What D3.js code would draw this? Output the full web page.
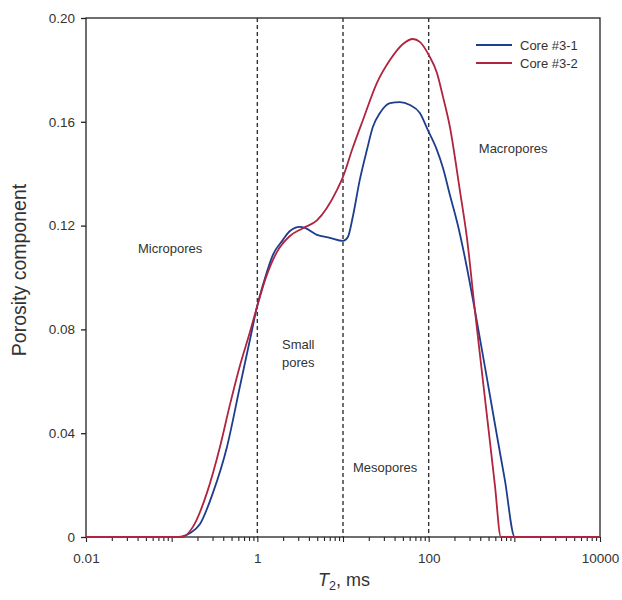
<!DOCTYPE html>
<html>
<head>
<meta charset="utf-8">
<script src="https://cdn.jsdelivr.net/npm/d3@7"></script>
<style>
  body { margin: 0; background: #fff; }
  text { font-family: Arial, "Liberation Sans", sans-serif; fill: #333; }
</style>
</head>
<body>
<div id="chart"></div>
<script>
// T2 (ms) and porosity component
var t2Core1 = [0.01, 0.12, 0.164, 0.214, 0.303, 0.442, 0.626, 0.82, 0.99, 1.23, 1.52, 1.99, 2.40, 3.14, 3.59, 4.96, 7.03, 9.97, 11.4, 13.0, 15.7, 19.0, 22.3, 27.0, 35.3, 46.2, 60.4, 78.9, 97.9, 125, 147, 177, 219, 264, 346, 478, 625, 775, 1013, 10000];
var porCore1 = [0, 0, 0.0015, 0.005, 0.017, 0.0347, 0.058, 0.076, 0.0886, 0.0998, 0.1087, 0.1145, 0.1179, 0.1195, 0.1191, 0.1164, 0.1153, 0.1141, 0.1156, 0.1233, 0.1376, 0.1491, 0.158, 0.1634, 0.1672, 0.1676, 0.1665, 0.1634, 0.1568, 0.1491, 0.1422, 0.1318, 0.1202, 0.1079, 0.0875, 0.0613, 0.0393, 0.022, 0, 0];

var t2Core2 = [0.01, 0.132, 0.177, 0.258, 0.366, 0.479, 0.626, 0.82, 0.99, 1.23, 1.69, 2.40, 3.40, 4.96, 6.48, 8.49, 9.97, 13.0, 17.1, 24.9, 35.3, 50.1, 65.5, 78.9, 100.4, 125, 147, 177, 231, 279, 346, 429, 518, 593, 697, 10000];
var porCore2 = [0, 0, 0.0039, 0.017, 0.0347, 0.051, 0.066, 0.079, 0.0886, 0.099, 0.1098, 0.116, 0.119, 0.122, 0.1268, 0.1337, 0.1387, 0.150, 0.1607, 0.175, 0.1838, 0.190, 0.1919, 0.1908, 0.1857, 0.1788, 0.1696, 0.158, 0.1337, 0.1156, 0.0875, 0.0605, 0.037, 0.020, 0, 0];

var seriesNames = ["Core #3-1", "Core #3-2"];
var seriesColors = ["#1d3d8e", "#b0243f"];

var yTicks = [0, 0.04, 0.08, 0.12, 0.16, 0.20];
var xLabelTicks = [0.01, 1, 100, 10000];
var boundaries = [1, 10, 100];

var regionNames = ["Micropores", "Small\npores", "Mesopores", "Macropores"];
var regionPos = [[0.0404, 0.1094], [1.94, 0.0724], [13.06, 0.025], [385, 0.148]];

var W = 622, H = 600;
var mLeft = 86, mRight = 600, mTop = 18, mBottom = 537;

var svg = d3.select("#chart").append("svg").attr("width", W).attr("height", H);

var x = d3.scaleLog().domain([0.01, 10000]).range([mLeft, mRight]);
var y = d3.scaleLinear().domain([0, 0.2]).range([mBottom, mTop]);

// frame
svg.append("rect").attr("x", mLeft).attr("y", mTop)
  .attr("width", mRight - mLeft).attr("height", mBottom - mTop)
  .attr("fill", "none").attr("stroke", "#222").attr("stroke-width", 1.3);

// y axis
var yAxis = svg.append("g").attr("transform", "translate(" + mLeft + ",0)")
  .call(d3.axisLeft(y).tickValues(yTicks).tickSize(5).tickPadding(6)
    .tickFormat(function(d){ return d === 0 ? "0" : d3.format(".2f")(d); }));
yAxis.select(".domain").remove();
yAxis.selectAll("line").attr("stroke", "#222").attr("stroke-width", 1.3);
yAxis.selectAll("text").style("font-size", "13.5px").attr("fill", "#333");

// x axis - major and minor ticks
var allTicks = [];
for (var e = -2; e < 4; e++) {
  for (var m = 1; m < 10; m++) allTicks.push(m * Math.pow(10, e));
}
allTicks.push(10000);
var xAxis = svg.append("g").attr("transform", "translate(0," + mBottom + ")")
  .call(d3.axisBottom(x).tickValues(allTicks).tickSize(5).tickPadding(11)
    .tickFormat(function(d){ return xLabelTicks.indexOf(d) >= 0 ? (d < 1 ? "0.01" : String(d)) : ""; }));
xAxis.select(".domain").remove();
xAxis.selectAll("line").attr("stroke", "#222").attr("stroke-width", 1.1)
  .attr("y2", function(d){ var l = Math.log10(d); return Math.abs(l - Math.round(l)) < 1e-9 ? 5 : 4; });
xAxis.selectAll("text").style("font-size", "13.5px").attr("fill", "#333");

// pore class boundaries
svg.selectAll(".bnd").data(boundaries).enter().append("line")
  .attr("x1", d => x(d)).attr("x2", d => x(d))
  .attr("y1", mTop).attr("y2", mBottom)
  .attr("stroke", "#333").attr("stroke-width", 1.4).attr("stroke-dasharray", "4,3");

// curves
var line = d3.line().x(d => x(d[0])).y(d => y(d[1])).curve(d3.curveMonotoneX);
var series = [d3.zip(t2Core1, porCore1), d3.zip(t2Core2, porCore2)];
svg.selectAll(".curve").data(series).enter().append("path")
  .attr("d", line).attr("fill", "none")
  .attr("stroke", (d, i) => seriesColors[i]).attr("stroke-width", 1.8);

// region labels
regionNames.forEach(function(name, i){
  var t = svg.append("text").attr("x", x(regionPos[i][0])).attr("y", y(regionPos[i][1]))
    .style("font-size", "13px");
  name.split("\n").forEach(function(s, k){
    t.append("tspan").attr("x", x(regionPos[i][0])).attr("dy", k === 0 ? 0 : 18).text(s);
  });
});

// legend
var lg = svg.append("g").attr("transform", "translate(476,45)");
seriesNames.forEach(function(name, i){
  lg.append("line").attr("x1", 0).attr("x2", 36).attr("y1", i * 18).attr("y2", i * 18)
    .attr("stroke", seriesColors[i]).attr("stroke-width", 1.8);
  lg.append("text").attr("x", 44).attr("y", i * 18 + 5).style("font-size", "13px").text(name);
});

// axis titles
svg.append("text").attr("transform", "translate(26," + 270 + ") rotate(-90)")
  .attr("text-anchor", "middle").style("font-size", "19.5px").text("Porosity component");

var xt = svg.append("text").attr("x", 318).attr("y", 586).style("font-size", "18px");
xt.append("tspan").style("font-style", "italic").text("T");
xt.append("tspan").attr("dy", 4).style("font-size", "12.5px").text("2");
xt.append("tspan").attr("dy", -4).text(", ms");
</script>
</body>
</html>
